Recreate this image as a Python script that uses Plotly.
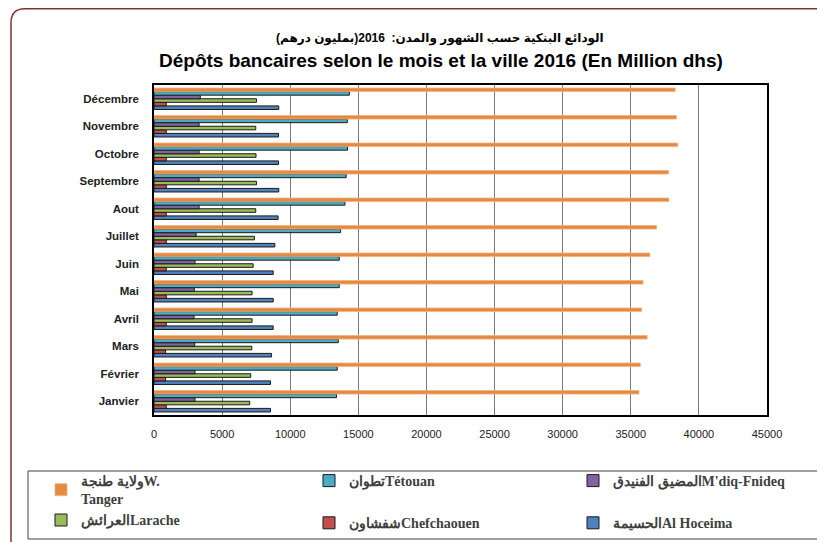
import plotly.graph_objects as go

months = ["Janvier", "Février", "Mars", "Avril", "Mai", "Juin", "Juillet",
          "Aout", "Septembre", "Octobre", "Novembre", "Décembre"]

al_hoceima = [8550, 8550, 8630, 8750, 8750, 8750, 8870, 9110, 9160, 9140, 9140, 9160]
chefchaouen = [900, 850, 850, 900, 900, 900, 900, 900, 900, 900, 900, 900]
larache = [7030, 7100, 7180, 7200, 7200, 7280, 7370, 7470, 7520, 7490, 7470, 7520]
mdiq = [3010, 3010, 2990, 2940, 2960, 3010, 3090, 3310, 3310, 3310, 3310, 3400]
tetouan = [13400, 13450, 13530, 13450, 13600, 13600, 13700, 14020, 14110, 14210, 14190, 14340]
tanger = [35600, 35700, 36200, 35800, 35900, 36400, 36900, 37800, 37770, 38450, 38350, 38260]

x_ticks = [0, 5000, 10000, 15000, 20000, 25000, 30000, 35000, 40000, 45000]

# (name, values, colour, legend column, legend rank)
series = [
    ("الحسيمةAl Hoceima", al_hoceima, "#4F81BD", "legend3", 2),
    ("شفشاونChefchaouen", chefchaouen, "#C0504D", "legend2", 2),
    ("العرائشLarache", larache, "#9BBB59", "legend", 2),
    ("المضيق الفنيدقM'diq-Fnideq", mdiq, "#8064A2", "legend3", 1),
    ("تطوانTétouan", tetouan, "#4BACC6", "legend2", 1),
    ("ولاية طنجةW.<br>Tanger", tanger, "#E38B44", "legend", 1),
]

# page body has an 8px margin: figure origin sits at screen (8, 8)
OFF = 8
W, H = 817, 534
L, R, T, B = 146, 58, 77, 127
PW, PH = W - L - R, H - T - B


def sx(x):
    """screen x pixel -> paper fraction"""
    return (x - OFF - L) / PW


def sy(y):
    """screen y pixel -> paper fraction"""
    return (H - B - (y - OFF)) / PH


fig = go.Figure()
for i, (name, vals, color, leg, rank) in enumerate(series):
    is_tanger = color == "#E38B44"
    fig.add_trace(go.Bar(
        y=months, x=vals, orientation="h", name=name,
        marker=dict(color=color,
                    line=dict(color="#F2B27E" if is_tanger else "#1a1a1a",
                              width=0.8 if is_tanger else 1)),
        legend=leg, legendgroup=f"g{i}", legendrank=rank,
    ))

# outer rounded border
x0, y0, x1, y1, r = 11, 8.8, 850, 570, 14
path = (f"M {sx(x0)},{sy(y0 + r)} "
        f"Q {sx(x0)},{sy(y0)} {sx(x0 + r)},{sy(y0)} "
        f"L {sx(x1)},{sy(y0)} L {sx(x1)},{sy(y1)} L {sx(x0)},{sy(y1)} Z")

shapes = [
    dict(type="path", xref="paper", yref="paper", path=path,
         line=dict(color="#7B3535", width=1.5), layer="below"),
    dict(type="rect", xref="paper", yref="paper",
         x0=sx(28), x1=sx(821), y0=sy(471), y1=sy(539),
         line=dict(color="#404040", width=1)),
]

legfont = dict(family="Liberation Serif, Times New Roman, DejaVu Serif", size=14,
               color="#404040", weight="bold")
legcommon = dict(orientation="v", bgcolor="rgba(0,0,0,0)", borderwidth=0,
                 font=legfont, traceorder="grouped", itemwidth=30,
                 xanchor="left", yanchor="top", y=sy(465))

fig.update_layout(
    width=W, height=H,
    margin=dict(l=L, r=R, t=T, b=B, autoexpand=False),
    paper_bgcolor="white", plot_bgcolor="white",
    barmode="group", bargap=0.22, bargroupgap=0,
    showlegend=True,
    legend=dict(**legcommon, x=sx(41), tracegroupgap=0),
    legend2=dict(**legcommon, x=sx(309), tracegroupgap=21),
    legend3=dict(**legcommon, x=sx(573), tracegroupgap=21),
    xaxis=dict(range=[0, 45000], tickvals=x_ticks, ticktext=[str(v) for v in x_ticks],
               showgrid=True, gridcolor="#7a7a7a", gridwidth=1, zeroline=False,
               showline=True, linecolor="black", linewidth=1.5, mirror=True,
               ticks="", tickfont=dict(family="Arial, Liberation Sans", size=11, color="#222"),
               ticklabelstandoff=8),
    yaxis=dict(showgrid=False, zeroline=False, showline=True, linecolor="black",
               linewidth=1.5, mirror=True, ticks="",
               tickfont=dict(family="Arial, Liberation Sans", size=11.5, color="#222",
                             weight="bold"),
               ticklabelstandoff=11),
    shapes=shapes,
    annotations=[
        dict(xref="paper", yref="paper", x=sx(440), y=sy(38), xanchor="center",
             yanchor="middle", showarrow=False,
             text="<b>الودائع البنكية حسب الشهور والمدن:  2016(بمليون درهم)</b>",
             font=dict(family="Arial, Liberation Sans, DejaVu Sans", size=12, color="black")),
        dict(xref="paper", yref="paper", x=sx(441), y=sy(60), xanchor="center",
             yanchor="middle", showarrow=False,
             text="<b>Dépôts bancaires selon le mois et la ville 2016 (En Million dhs)</b>",
             font=dict(family="Arial, Liberation Sans", size=19, color="black")),
    ],
)

fig.write_html("out.html")
